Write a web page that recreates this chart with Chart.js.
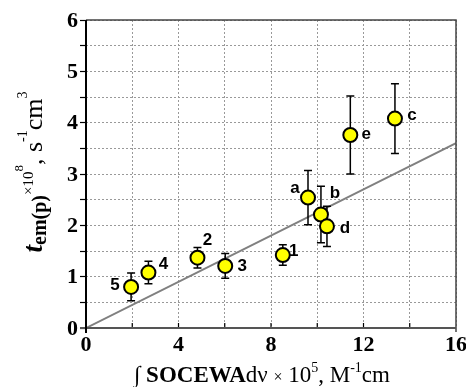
<!DOCTYPE html>
<html lang="en">
<head>
  <meta charset="UTF-8">
  <title>Emission time vs SOCEWA</title>
  <script src="https://cdn.jsdelivr.net/npm/chart.js"></script>
  <style>
    html, body { margin: 0; padding: 0; background: #fff; }
    #wrap { width: 466px; height: 387px; }
  </style>
</head>
<body>
  <div id="wrap"><canvas id="chart" width="466" height="387"></canvas></div>

  <script>
    // data
    const pointLabels = ['5', '4', '2', '3', '1', 'a', 'b', 'd', 'e', 'c'];
    const xValues = [1.95, 2.70, 4.82, 6.02, 8.51, 9.60, 10.16, 10.42, 11.43, 13.36];
    const yValues = [0.80, 1.08, 1.37, 1.21, 1.42, 2.54, 2.21, 1.98, 3.76, 4.08];
    const yErrors = [0.27, 0.22, 0.20, 0.24, 0.20, 0.53, 0.55, 0.39, 0.76, 0.68];
    const fitX = [0, 16];
    const fitY = [0, 3.6];
    const xTickLabels = [0, 4, 8, 12, 16];
    const yTickLabels = [0, 1, 2, 3, 4, 5, 6];

    // label offsets in pixels (style only)
    const labelOffsets = [[-16, -2], [15, -8], [10, -17], [17, 0], [11, -4],
                          [-13, -9], [14, -21], [18, 2], [16, -1], [17, -3]];

    const serif = '"Liberation Serif", "Times New Roman", serif';

    // draw runs of text with sizes, weights and baseline shifts
    function drawRuns(ctx, runs, x, y) {
      let total = 0;
      runs.forEach(r => {
        ctx.font = r.font;
        r.w = ctx.measureText(r.text).width;
        total += r.w;
      });
      let cx = x - total / 2;
      runs.forEach(r => {
        ctx.font = r.font;
        ctx.fillText(r.text, cx, y + (r.dy || 0));
        cx += r.w;
      });
    }

    const extras = {
      id: 'extras',
      afterDatasetsDraw(chart) {
        const ctx = chart.ctx;
        const xs = chart.scales.x, ys = chart.scales.y;
        const area = chart.chartArea;
        ctx.save();

        // inward x ticks
        ctx.strokeStyle = '#000';
        ctx.lineWidth = 1.2;
        for (let v = 2; v < 16; v += 2) {
          const px = xs.getPixelForValue(v);
          ctx.beginPath();
          ctx.moveTo(px, area.bottom);
          ctx.lineTo(px, area.bottom - 5);
          ctx.stroke();
        }

        // frame
        ctx.lineWidth = 1.5;
        ctx.strokeStyle = '#444';
        ctx.beginPath();
        ctx.moveTo(area.left, area.top);
        ctx.lineTo(area.right, area.top);
        ctx.lineTo(area.right, area.bottom + 4);
        ctx.stroke();
        ctx.lineWidth = 2;
        ctx.strokeStyle = '#555';
        ctx.beginPath();
        ctx.moveTo(area.left - 6, area.bottom);
        ctx.lineTo(area.right, area.bottom);
        ctx.stroke();
        ctx.strokeStyle = '#000';
        ctx.beginPath();
        ctx.moveTo(area.left, area.top);
        ctx.lineTo(area.left, area.bottom + 5);
        ctx.stroke();

        // tick labels
        ctx.fillStyle = '#000';
        ctx.font = 'bold 22px ' + serif;
        ctx.textAlign = 'center';
        ctx.textBaseline = 'top';
        xTickLabels.forEach(v => ctx.fillText(String(v), xs.getPixelForValue(v), area.bottom + 6));
        ctx.textAlign = 'right';
        ctx.textBaseline = 'middle';
        yTickLabels.forEach(v => ctx.fillText(String(v), area.left - 8, ys.getPixelForValue(v) + 1));

        // error bars
        ctx.strokeStyle = '#000';
        ctx.lineWidth = 1.5;
        xValues.forEach((xv, i) => {
          const px = xs.getPixelForValue(xv);
          const top = ys.getPixelForValue(yValues[i] + yErrors[i]);
          const bot = ys.getPixelForValue(yValues[i] - yErrors[i]);
          ctx.beginPath();
          ctx.moveTo(px, top); ctx.lineTo(px, bot);
          ctx.moveTo(px - 4, top); ctx.lineTo(px + 4, top);
          ctx.moveTo(px - 4, bot); ctx.lineTo(px + 4, bot);
          ctx.stroke();
        });

        // markers on top of error bars
        xValues.forEach((xv, i) => {
          const px = xs.getPixelForValue(xv);
          const py = ys.getPixelForValue(yValues[i]);
          ctx.beginPath();
          ctx.arc(px, py, 7, 0, Math.PI * 2);
          ctx.fillStyle = '#ffff00';
          ctx.fill();
          ctx.lineWidth = 2;
          ctx.strokeStyle = '#000';
          ctx.stroke();
        });

        // point labels
        ctx.fillStyle = '#000';
        ctx.font = 'bold 17px "Liberation Sans", Arial, sans-serif';
        ctx.textAlign = 'center';
        ctx.textBaseline = 'middle';
        pointLabels.forEach((t, i) => {
          const px = xs.getPixelForValue(xValues[i]) + labelOffsets[i][0];
          const py = ys.getPixelForValue(yValues[i]) + labelOffsets[i][1];
          ctx.fillText(t, px, py);
        });

        // x title
        const f = ' ' + serif;
        ctx.textAlign = 'left';
        ctx.textBaseline = 'alphabetic';
        drawRuns(ctx, [
          { text: '\u222B ', font: '23px' + f },
          { text: 'SOCEWA', font: 'bold 23px' + f },
          { text: 'd\u03BD ', font: '23px' + f },
          { text: '\u00D7', font: '16px' + f },
          { text: ' 10', font: '23px' + f },
          { text: '5', font: '14px' + f, dy: -10 },
          { text: ', M', font: '23px' + f },
          { text: '-1', font: '14px' + f, dy: -10 },
          { text: 'cm', font: '23px' + f }
        ], 262, 382);

        // y title (rotated)
        ctx.translate(42, 172);
        ctx.rotate(-Math.PI / 2);
        drawRuns(ctx, [
          { text: 't', font: 'italic bold 27px' + f },
          { text: 'em(p)', font: 'bold 20px' + f, dy: 4 },
          { text: '\u00D710', font: '15px' + f, dy: -9 },
          { text: '8', font: '13px' + f, dy: -19 },
          { text: ', s', font: '26px' + f },
          { text: '-1', font: '14px' + f, dy: -15 },
          { text: 'cm', font: '26px' + f },
          { text: '3', font: '14px' + f, dy: -15 }
        ], 0, 0);

        ctx.restore();
      }
    };

    const ctx = document.getElementById('chart').getContext('2d');
    new Chart(ctx, {
      type: 'scatter',
      data: {
        datasets: [
          {
            label: 'fit',
            type: 'line',
            data: fitX.map((x, i) => ({ x: x, y: fitY[i] })),
            borderColor: '#808080',
            borderWidth: 2,
            pointRadius: 0,
            fill: false
          },
          {
            label: 'points',
            data: xValues.map((x, i) => ({ x: x, y: yValues[i] })),
            pointRadius: 0,
            showLine: false
          }
        ]
      },
      options: {
        responsive: false,
        animation: false,
        layout: { padding: { top: 20, right: 10, left: 0, bottom: 0 } },
        plugins: { legend: { display: false }, tooltip: { enabled: false } },
        scales: {
          x: {
            type: 'linear',
            min: 0, max: 16,
            afterFit(scale) { scale.height = 59; },
            ticks: { stepSize: 2, display: false },
            grid: { color: '#999', drawTicks: false, lineWidth: 1 },
            border: { display: false, dash: [2, 2] }
          },
          y: {
            type: 'linear',
            min: 0, max: 6,
            afterFit(scale) { scale.width = 86; },
            ticks: { stepSize: 0.5, display: false },
            grid: { color: '#999', tickColor: '#000', tickLength: 6, lineWidth: 1, tickWidth: 1.2 },
            border: { display: false, dash: [2, 2] }
          }
        }
      },
      plugins: [extras]
    });
  </script>
</body>
</html>
